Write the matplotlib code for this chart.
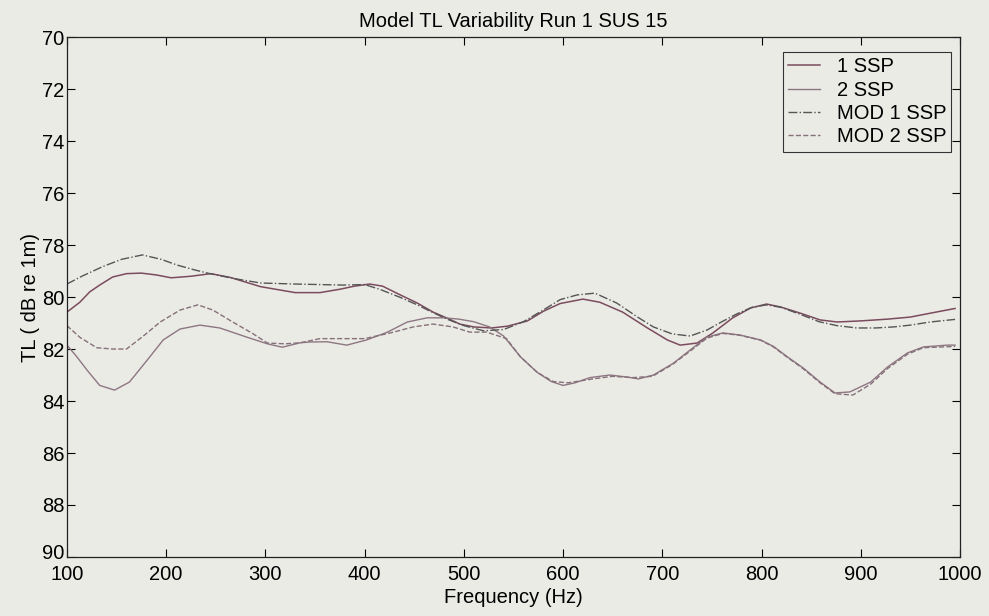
import matplotlib
matplotlib.use("Agg")
import matplotlib.pyplot as plt
import matplotlib.transforms as mtransforms
from matplotlib import font_manager

# ---- data ----
freq_1ssp = [100, 113, 123, 133, 146, 160, 175, 190, 205, 225, 245, 265, 295, 330, 355,
             375, 390, 405, 418, 436, 453, 469, 483, 496, 510, 528, 544, 564, 580, 597,
             620, 637, 660, 685, 705, 718, 735, 751, 771, 789, 805, 819, 839, 859, 876,
             899, 927, 950, 973, 995]
tl_1ssp = [80.58, 80.2, 79.8, 79.54, 79.23, 79.1, 79.08, 79.15, 79.26, 79.2, 79.1, 79.25,
           79.6, 79.83, 79.83, 79.7, 79.58, 79.5, 79.58, 79.92, 80.23, 80.58, 80.81, 81.04,
           81.15, 81.19, 81.12, 80.92, 80.55, 80.25, 80.08, 80.2, 80.58, 81.19, 81.65, 81.85,
           81.77, 81.38, 80.8, 80.42, 80.27, 80.38, 80.62, 80.88, 80.96, 80.92, 80.85, 80.77,
           80.6, 80.44]

freq_2ssp = [100, 110, 120, 133, 148, 163, 181, 197, 214, 234, 254, 281, 302, 317, 335,
             345, 362, 382, 402, 423, 443, 463, 480, 495, 510, 526, 540, 557, 574, 588,
             600, 612, 627, 647, 665, 676, 691, 711, 728, 745, 761, 778, 799, 812, 826,
             842, 859, 874, 889, 910, 927, 947, 963, 987, 995]
tl_2ssp = [81.85, 82.3, 82.8, 83.4, 83.58, 83.27, 82.42, 81.65, 81.23, 81.08, 81.19, 81.54,
           81.8, 81.93, 81.76, 81.73, 81.72, 81.85, 81.65, 81.35, 80.96, 80.8, 80.8, 80.85,
           80.95, 81.15, 81.5, 82.3, 82.9, 83.25, 83.4, 83.3, 83.1, 83.0, 83.08, 83.15, 83.0,
           82.55, 82.04, 81.54, 81.38, 81.46, 81.65, 81.9, 82.3, 82.73, 83.27, 83.69, 83.65,
           83.27, 82.69, 82.15, 81.92, 81.85, 81.85]

freq_mod1 = [100, 115, 136, 155, 176, 195, 211, 228, 244, 270, 295, 330, 378, 400, 415,
             435, 453, 470, 485, 500, 520, 540, 560, 580, 597, 614, 632, 654, 675, 691,
             710, 728, 745, 760, 775, 790, 805, 820, 840, 858, 876, 896, 915, 933, 950,
             970, 995]
tl_mod1 = [79.5, 79.2, 78.83, 78.55, 78.38, 78.55, 78.77, 78.95, 79.1, 79.3, 79.46, 79.5,
           79.54, 79.52, 79.7, 80.0, 80.3, 80.62, 80.88, 81.1, 81.3, 81.25, 80.95, 80.5,
           80.1, 79.92, 79.85, 80.23, 80.77, 81.15, 81.42, 81.5, 81.27, 80.95, 80.65, 80.4,
           80.3, 80.4, 80.68, 80.95, 81.1, 81.19, 81.19, 81.15, 81.08, 80.96, 80.86]

freq_mod2 = [100, 113, 130, 146, 160, 177, 194, 214, 232, 247, 267, 287, 302, 320, 335,
             355, 375, 400, 426, 449, 469, 489, 506, 523, 543, 557, 574, 590, 605, 630,
             650, 670, 690, 710, 728, 745, 761, 778, 799, 812, 826, 842, 859, 874, 892,
             910, 927, 947, 963, 995]
tl_mod2 = [81.1, 81.55, 81.95, 82.0, 82.0, 81.5, 80.96, 80.5, 80.3, 80.5, 80.96, 81.4,
           81.77, 81.8, 81.76, 81.6, 81.6, 81.6, 81.38, 81.15, 81.04, 81.15, 81.35, 81.35,
           81.6, 82.3, 82.9, 83.25, 83.3, 83.15, 83.05, 83.1, 83.05, 82.6, 82.08, 81.58,
           81.4, 81.47, 81.66, 81.92, 82.32, 82.76, 83.3, 83.72, 83.77, 83.35, 82.75, 82.2,
           81.95, 81.9]

x_ticks = list(range(100, 1001, 100))
y_ticks = list(range(70, 91, 2))

# ---- font: narrow Arial-like face if present ----
names = {f.name for f in font_manager.fontManager.ttflist}
family = "Liberation Sans Narrow" if "Liberation Sans Narrow" in names else "Liberation Sans"
plt.rcParams["font.family"] = [family, "DejaVu Sans"]
plt.rcParams["font.size"] = 14.5

bg = "#ebebe6"
fig = plt.figure(figsize=(9.89, 6.16), dpi=100, facecolor=bg)
ax = fig.add_axes([0.0677, 0.0958, 0.903, 0.844], facecolor=bg)

ax.plot(freq_1ssp, tl_1ssp, color="#7b4b5e", lw=1.1, ls="-", label="1 SSP")
ax.plot(freq_2ssp, tl_2ssp, color="#8d7682", lw=1.0, ls="-", label="2 SSP")
ax.plot(freq_mod1, tl_mod1, color="#555555", lw=1.0, ls="-.", label="MOD 1 SSP")
ax.plot(freq_mod2, tl_mod2, color="#86707a", lw=1.0, ls="--", label="MOD 2 SSP")

ax.set_xlim(100, 1000)
ax.set_ylim(90, 70)
ax.set_xticks(x_ticks)
ax.set_yticks(y_ticks)
ax.tick_params(direction="in", top=True, right=True, length=6, width=0.8)
ax.tick_params(axis="x", pad=6)
ax.tick_params(axis="y", pad=2)
for s in ax.spines.values():
    s.set_linewidth(0.9)
    s.set_color("#222222")

# lift the bottom "90" label a little so it clears the "100" below it
last = ax.yaxis.get_major_ticks()[-1].label1
last.set_transform(last.get_transform()
                   + mtransforms.ScaledTranslation(0, 4 / 72, fig.dpi_scale_trans))

ax.set_title("Model TL Variability Run 1 SUS 15", fontsize=14.5, pad=7)
ax.set_xlabel("Frequency (Hz)", labelpad=3)
ax.set_ylabel("TL ( dB re 1m)", labelpad=1)

leg = ax.legend(loc="upper right", bbox_to_anchor=(0.99, 0.971), frameon=True,
                fancybox=False, framealpha=1, facecolor=bg, edgecolor="#333333",
                handlelength=1.6, handletextpad=0.8, labelspacing=0.22,
                borderpad=0.25, borderaxespad=0)
leg.get_frame().set_linewidth(0.8)

fig.savefig("out.png", dpi=100, facecolor=bg)
